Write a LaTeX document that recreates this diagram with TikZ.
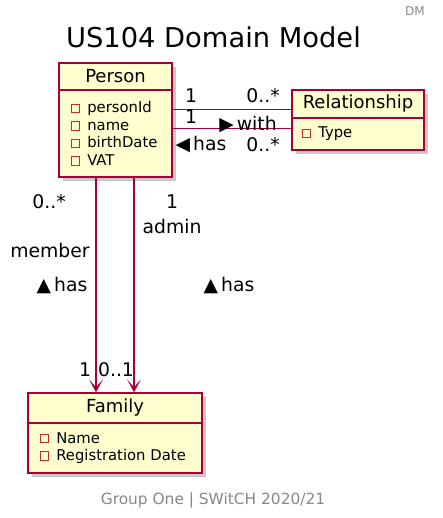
\documentclass[tikz,border=0pt]{standalone}
\usepackage{fontspec}
\setmainfont{DejaVu Sans}
\usepackage{xcolor}
\usepackage{tikz}
\usetikzlibrary{arrows.meta, positioning, shadows, calc}

\definecolor{umlborder}{HTML}{A80036}
\definecolor{umlfill}{HTML}{FEFECE}
\definecolor{fieldred}{HTML}{C82930}
\definecolor{notegray}{HTML}{888888}

% small square in front of each attribute
\newcommand{\fieldbox}{\raisebox{0.8pt}{\textcolor{fieldred}{\fboxsep=0pt\fboxrule=0.9pt\fbox{\rule{0pt}{7.5pt}\rule{7.5pt}{0pt}}}}\hspace{7pt}}

\begin{document}
\begin{tikzpicture}[
    x=1pt, y=-1pt,
    umlhead/.style={draw=umlborder, line width=1.4pt, fill=umlfill, rectangle,
      inner sep=0pt, align=center, font=\fontsize{18}{20}\selectfont,
      drop shadow={shadow xshift=4pt, shadow yshift=-4pt, opacity=0.3, fill=black!70}},
    umlbody/.style={draw=umlborder, line width=1.4pt, fill=umlfill, rectangle,
      inner xsep=12pt, inner ysep=0pt, align=left, font=\fontsize{14.8}{17.5}\selectfont,
      drop shadow={shadow xshift=4pt, shadow yshift=-4pt, opacity=0.3, fill=black!70}},
    assoc/.style={draw=umlborder, line width=1.1pt},
    navarrow/.style={draw=umlborder, line width=1.1pt,
      -{Stealth[length=13pt, width=14pt, inset=8pt, fill=umlborder]}},
    rolelabel/.style={font=\fontsize{18.8}{20}\selectfont, inner sep=0pt}
]
\useasboundingbox (0,0) rectangle (443,518);

\node (dm) [text=notegray, font=\fontsize{12}{14}\selectfont] at (415,11) {DM};
\node (title) [font=\fontsize{27.3}{30}\selectfont] at (213.5,37) {US104 Domain Model};

% classes
\node (phead) [umlhead, minimum width=113pt, minimum height=27pt] at (115.5,76.5) {Person};
\node (pbody) [umlbody, text width=89pt, minimum height=87pt, below=-1.4pt of phead]
  {\fieldbox personId\\ \fieldbox name\\ \fieldbox birthDate\\ \fieldbox VAT};

\node (rhead) [umlhead, minimum width=132pt, minimum height=28pt] at (358,104) {Relationship};
\node (rbody) [umlbody, minimum height=32pt, inner xsep=10pt, text width=112pt, below=-1.4pt of rhead]
  {\fieldbox Type};

\node (fhead) [umlhead, minimum width=174pt, minimum height=30pt] at (115,408) {Family};
\node (fbody) [umlbody, text width=150pt, minimum height=50pt, below=-1.4pt of fhead]
  {\fieldbox Name\\ \fieldbox Registration Date};

% Person -- Relationship
\draw[assoc] ([yshift=-20pt]pbody.north east) -- ([yshift=-20pt]pbody.north east -| rhead.west);
\draw[assoc] ([yshift=-39pt]pbody.north east) -- ([yshift=-39pt]pbody.north east -| rbody.west);
\node (m1) [rolelabel] at (191,96) {1};
\node (m2) [rolelabel] at (263,96) {0..*};
\node (m3) [rolelabel] at (191,117) {1};
\node (with) [rolelabel] at (248,125) {▶\,with};
\node (has1) [rolelabel] at (201,145) {◀\,has};
\node (m4) [rolelabel] at (263,145) {0..*};

% Person -> Family
\draw[navarrow] ([xshift=-19.5pt]pbody.south) -- ([xshift=-19.5pt]pbody.south |- fhead.north);
\draw[navarrow] ([xshift=18.5pt]pbody.south) -- ([xshift=18.5pt]pbody.south |- fhead.north);
\node (m5) [rolelabel] at (49,202) {0..*};
\node (member) [rolelabel] at (50,250) {member};
\node (has2) [rolelabel] at (62,286) {▲\,has};
\node (m6) [rolelabel] at (172,202) {1};
\node (admin) [rolelabel] at (172,226) {admin};
\node (has3) [rolelabel] at (229,286) {▲\,has};
\node (m7) [rolelabel] at (85,370) {1};
\node (m8) [rolelabel] at (116,370) {0..1};

\node (footer) [text=notegray, font=\fontsize{15.4}{18}\selectfont] at (213,500) {Group One | SWitCH 2020/21};
\end{tikzpicture}
\end{document}
